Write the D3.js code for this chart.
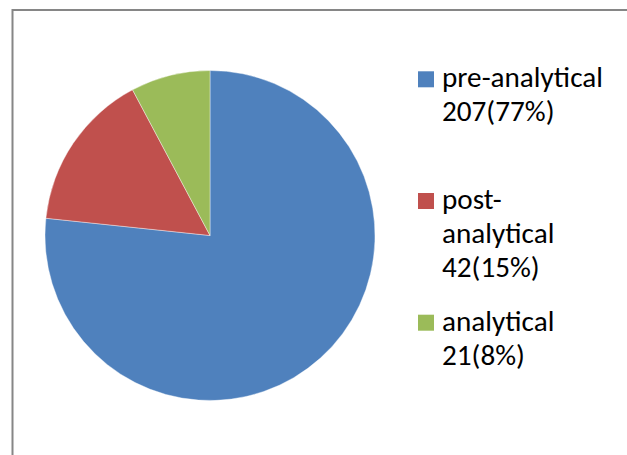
<!DOCTYPE html>
<html>
<head>
<meta charset="utf-8">
<script src="https://cdn.jsdelivr.net/npm/d3@7"></script>
<style>
  html, body { margin: 0; padding: 0; background: #fff; }
  svg { display: block; }
</style>
</head>
<body>
<div id="chart"></div>
<script>
// chart data
const categories = ['pre-analytical', 'post-analytical', 'analytical'];
const values = [207, 42, 21];
const percents = ['77%', '15%', '8%'];
const colors = ['#4F81BD', '#C0504D', '#9BBB59'];
// legend text lines, as wrapped in the original
const legendLines = [
  ['pre-analytical', '207(77%)'],
  ['post-', 'analytical', '42(15%)'],
  ['analytical', '21(8%)']
];

const width = 627;
const height = 455;

const svg = d3.select('#chart')
  .append('svg')
  .attr('width', width)
  .attr('height', height);

// chart area border (runs off the right/bottom edge)
svg.append('rect')
  .attr('x', 12.5)
  .attr('y', 10)
  .attr('width', 700)
  .attr('height', 600)
  .attr('fill', '#fff')
  .attr('stroke', '#868686')
  .attr('stroke-width', 2);

const cx = 210, cy = 235.5, radius = 165;

const pie = d3.pie()
  .value(d => d)
  .sort(null);

const arc = d3.arc()
  .innerRadius(0)
  .outerRadius(radius);

const color = d3.scaleOrdinal()
  .domain(categories)
  .range(colors);

svg.append('g')
  .attr('transform', `translate(${cx},${cy})`)
  .selectAll('path')
  .data(pie(values))
  .enter()
  .append('path')
  .attr('d', arc)
  .attr('fill', (d, i) => color(categories[i]))
  .attr('stroke', '#fff')
  .attr('stroke-width', 0.4);

// legend
const fontFamily = 'Carlito, Calibri, Lato, sans-serif';
let fontSize = 27;

// fit font size so "pre-analytical" is about 161px wide
const probe = svg.append('text')
  .attr('font-family', fontFamily)
  .attr('font-size', fontSize)
  .text('pre-analytical');
const probeLen = probe.node().getComputedTextLength();
probe.remove();
if (probeLen > 0) fontSize = fontSize * 161 / probeLen;

const lineGap = 33.8;
const firstBaselines = [87.3, 209, 330.7];

const legend = svg.append('g');

legendLines.forEach((lines, i) => {
  const g = legend.append('g');
  g.append('rect')
    .attr('x', 418)
    .attr('y', firstBaselines[i] - 16)
    .attr('width', 16)
    .attr('height', 16)
    .attr('fill', colors[i]);

  const text = g.append('text')
    .attr('font-family', fontFamily)
    .attr('font-size', fontSize)
    .attr('fill', '#000');

  lines.forEach((line, j) => {
    text.append('tspan')
      .attr('x', 442)
      .attr('y', firstBaselines[i] + j * lineGap)
      .text(line);
  });
});
</script>
</body>
</html>
